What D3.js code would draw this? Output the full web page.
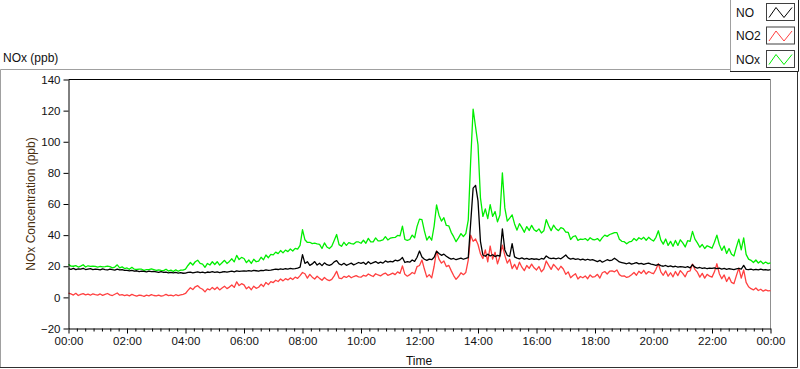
<!DOCTYPE html>
<html>
<head>
<meta charset="utf-8">
<script src="https://cdn.jsdelivr.net/npm/d3@7"></script>
<style>
body { margin: 0; background: #fff; }
svg { display: block; font-family: "Liberation Sans", Arial, sans-serif; }
</style>
</head>
<body>
<svg width="800" height="369"></svg>
<script>
// samples every 5 minutes, 00:00 .. 24:00
const STEP_MIN = 5;
const xTickLabels = ['00:00','02:00','04:00','06:00','08:00','10:00','12:00','14:00','16:00','18:00','20:00','22:00','00:00'];
const yTicks = [-20, 0, 20, 40, 60, 80, 100, 120, 140];
const seriesNames = ['NO', 'NO2', 'NOx'];
const seriesColors = ['#000000', '#ff4040', '#00ee00'];

const no = [
  18.4,18.0,18.6,17.8,18.3,18.1,18.7,17.9,18.2,18.5,17.8,18.1,
  18.0,17.7,18.3,17.9,17.6,18.2,17.8,17.5,18.1,17.6,17.9,17.4,
  17.3,17.0,17.4,16.8,17.1,16.6,16.9,16.7,16.4,16.8,16.5,16.7,
  16.4,16.1,16.5,16.0,16.2,15.8,16.1,15.7,16.0,15.6,15.9,15.5,
  15.6,16.0,16.2,15.8,16.1,16.4,15.9,16.2,15.8,16.3,16.0,16.5,
  16.1,16.4,15.9,16.3,16.6,16.2,16.5,16.8,16.4,17.0,16.7,16.9,
  17.0,16.8,17.2,16.9,17.3,17.1,16.8,17.4,17.2,17.6,17.3,17.5,
  17.8,18.1,17.9,18.3,18.0,18.4,18.2,18.6,18.3,18.5,18.8,19.4,
  27.5,21.8,22.9,20.6,21.5,23.0,20.8,21.9,20.4,22.2,21.0,20.6,
  21.2,22.8,23.6,21.5,20.8,21.9,20.6,21.3,22.0,20.9,21.6,22.4,
  21.8,22.5,21.2,22.9,21.6,22.3,23.0,21.9,22.6,22.0,23.4,22.7,
  23.2,22.8,23.9,23.4,24.1,25.6,22.4,23.0,22.6,24.0,23.1,25.8,
  29.8,26.0,24.5,23.8,24.6,24.2,25.8,29.6,28.2,27.0,27.8,26.4,
  25.4,24.6,25.0,24.2,24.8,25.2,24.5,25.0,25.6,48.0,70.2,72.0,
  62.0,36.0,27.2,26.4,27.8,26.6,27.4,26.2,27.0,26.5,44.0,30.5,
  27.0,26.4,34.5,26.0,25.2,24.8,25.4,24.6,25.0,24.4,24.9,24.5,
  24.8,24.2,25.0,24.6,26.6,25.4,24.9,25.2,24.7,25.3,24.8,26.0,
  27.2,25.4,24.6,25.0,24.4,24.8,24.1,24.6,24.0,24.5,23.9,24.2,
  23.6,23.0,23.8,22.6,23.4,24.2,23.6,24.0,25.2,24.0,22.8,22.4,
  22.0,21.6,22.2,21.4,21.8,22.3,21.5,21.9,21.2,21.7,22.0,21.4,
  21.0,20.6,21.2,20.4,20.0,20.5,19.8,20.2,19.6,20.0,19.4,19.8,
  19.6,19.2,19.8,19.0,21.0,19.4,18.8,19.2,18.6,19.0,18.4,18.8,
  18.6,19.0,18.4,18.8,18.2,18.6,18.0,18.4,18.1,17.8,18.3,18.6,
  18.2,20.6,18.0,17.8,18.2,17.6,18.0,17.7,18.1,17.6,17.9,17.5,
  17.8
];

const no2 = [
  2.8,2.2,1.5,2.6,1.2,1.9,2.4,1.6,2.1,1.4,2.3,1.8,
  1.5,2.2,1.3,1.9,2.5,1.6,1.2,2.0,2.8,1.4,1.7,1.1,
  1.6,1.0,1.9,1.3,0.8,1.5,1.2,0.6,1.4,1.0,1.8,1.2,
  1.0,1.5,0.8,1.2,1.9,1.1,1.4,0.9,1.7,1.2,1.6,2.0,
  2.5,4.5,6.2,5.0,6.8,7.5,6.0,5.2,3.5,5.5,4.8,6.4,
  5.0,6.5,4.8,6.0,7.2,5.6,6.6,8.0,6.4,10.0,7.6,8.8,
  8.0,5.5,6.8,4.9,7.2,5.8,6.5,8.4,7.0,9.6,8.2,10.1,
  9.5,11.0,10.2,11.8,10.6,12.0,11.2,12.5,11.5,13.0,12.2,14.0,
  16.0,15.2,12.4,14.8,13.0,11.8,13.6,12.2,11.0,12.8,11.4,10.8,
  11.6,13.8,16.8,12.4,12.0,13.5,12.8,13.9,12.6,13.4,14.0,13.2,
  13.0,14.2,13.6,15.0,14.1,13.4,15.2,14.4,13.8,14.9,15.6,14.2,
  14.8,15.6,14.6,16.4,15.4,20.2,14.8,13.6,14.6,16.0,15.2,19.8,
  20.5,24.0,18.2,13.0,14.6,12.5,20.0,29.8,24.6,22.0,23.4,19.8,
  20.6,17.2,14.0,11.6,13.4,15.8,14.6,16.0,24.0,40.0,36.0,37.5,
  34.0,28.0,25.0,30.5,22.8,33.0,24.6,29.0,21.5,26.4,33.5,27.0,
  22.0,24.5,18.5,21.2,18.0,22.6,19.4,17.2,20.5,18.6,21.4,19.0,
  17.6,19.8,16.4,18.2,23.4,20.6,18.0,21.2,19.4,17.6,20.0,18.2,
  14.8,16.4,12.6,14.0,15.2,11.8,13.4,12.6,13.8,12.0,14.4,13.0,
  13.4,14.8,12.4,15.8,16.6,15.0,16.8,17.0,16.4,17.6,14.6,13.6,
  13.8,12.8,13.4,14.6,16.0,14.2,16.8,15.4,17.4,15.0,16.6,15.8,
  15.2,18.0,21.6,16.4,14.2,17.0,13.6,15.8,13.2,16.6,14.0,17.2,
  15.4,13.2,16.6,17.0,21.4,18.0,16.2,13.0,15.4,12.4,14.8,13.6,
  13.0,16.4,21.6,15.2,12.0,14.4,10.2,13.0,9.6,8.8,14.0,18.8,
  12.4,17.6,9.6,6.8,5.6,4.8,6.0,4.4,5.2,4.0,4.8,4.2,
  4.4
];

const nox = [
  21.2,20.1,20.0,20.4,19.5,20.1,21.0,19.5,20.3,19.9,20.1,19.9,
  19.5,19.9,19.6,19.8,20.1,19.8,19.0,19.5,20.9,19.0,19.6,18.5,
  18.9,18.0,19.3,18.1,17.9,18.1,18.1,17.3,17.8,17.8,18.3,17.9,
  17.4,17.6,17.3,17.2,18.1,16.9,17.5,16.6,17.7,16.8,17.5,17.5,
  18.1,20.5,22.4,20.8,22.9,23.9,21.9,21.4,19.3,21.8,20.8,22.9,
  21.1,22.9,20.7,22.3,23.8,21.8,23.1,24.8,22.8,27.0,24.3,25.7,
  25.0,22.3,24.0,21.8,24.5,22.9,23.3,25.8,24.2,27.2,25.5,27.6,
  27.3,29.1,28.1,30.1,28.6,30.4,29.4,31.1,29.8,31.5,31.0,33.4,
  43.5,37.0,35.3,35.4,34.5,34.8,34.4,34.1,31.4,35.0,32.4,31.4,
  32.8,36.6,40.4,33.9,32.8,35.4,33.4,35.2,34.6,34.3,35.6,35.6,
  34.8,36.7,34.8,37.9,35.7,35.7,38.2,36.3,36.4,36.9,39.0,36.9,
  38.0,38.4,38.5,39.8,39.5,45.8,37.2,36.6,37.2,40.0,38.3,45.6,
  50.3,50.0,42.7,36.8,39.2,36.7,45.8,59.4,52.8,49.0,51.2,46.2,
  46.0,41.8,39.0,35.8,38.2,41.0,39.1,41.0,49.6,88.0,121.0,109.5,
  98.0,64.0,52.0,56.9,50.6,59.6,52.0,55.2,48.5,52.9,80.0,57.5,
  49.0,50.9,53.0,47.2,43.2,47.4,44.8,41.8,45.5,43.0,46.3,43.5,
  42.4,44.0,41.4,42.8,50.0,46.0,42.9,46.4,44.1,42.9,44.8,44.2,
  42.0,41.8,37.2,39.0,39.6,36.6,37.5,37.2,37.8,36.5,38.3,37.2,
  37.0,37.8,36.2,38.4,40.0,39.2,40.4,41.0,41.6,41.6,37.4,36.0,
  35.8,34.4,35.6,36.0,37.8,36.5,38.3,37.3,38.6,36.7,38.6,37.2,
  36.2,38.6,42.8,36.8,34.2,37.5,33.4,36.0,32.8,36.6,33.4,37.0,
  35.0,32.4,36.4,36.0,42.4,37.4,35.0,32.2,34.0,31.4,33.2,32.4,
  31.6,35.4,40.0,34.0,30.2,33.0,28.2,31.4,27.7,26.6,32.3,37.4,
  30.6,38.2,27.6,24.6,23.8,22.4,24.0,22.1,23.3,21.6,22.7,21.7,
  22.2
];

const plot = { left: 68.5, right: 770.5, top: 79.5, bottom: 328.5 };

var svg = d3.select('svg');

/* outer panel */
svg.append('path')
    .attr('d', 'M0.5,368 L0.5,69.5 L731,69.5')
    .attr('fill', 'none').attr('stroke', '#a0a0a0');
svg.append('path')
    .attr('d', 'M0,367.5 L797.5,367.5 L797.5,70')
    .attr('fill', 'none').attr('stroke', '#303030');

svg.append('text')
    .attr('x', 3).attr('y', 62)
    .attr('font-size', 12).attr('fill', '#111')
    .text('NOx (ppb)');

/* scales */
var x = d3.scaleLinear().domain([0, 1440]).range([plot.left, plot.right]);
var y = d3.scaleLinear().domain([-20, 140]).range([plot.bottom, plot.top]);

/* plot box */
svg.append('line')
    .attr('x1', plot.left).attr('x2', plot.right)
    .attr('y1', plot.top).attr('y2', plot.top)
    .attr('stroke', '#000');
svg.append('line')
    .attr('x1', plot.right).attr('x2', plot.right)
    .attr('y1', plot.top).attr('y2', plot.bottom)
    .attr('stroke', '#909090');

/* series */
var data = [nox, no2, no];
var colors = [seriesColors[2], seriesColors[1], seriesColors[0]];
var line = d3.line()
    .x((d, i) => x(i * STEP_MIN))
    .y((d) => y(d));

data.forEach((arr, k) => {
    svg.append('path')
        .datum(arr)
        .attr('fill', 'none')
        .attr('stroke', colors[k])
        .attr('stroke-width', 1.3)
        .attr('stroke-linejoin', 'round')
        .attr('d', line);
});

/* Y axis */
var yAxis = svg.append('g')
    .attr('transform', 'translate(' + plot.left + ',0)')
    .call(d3.axisLeft(y).tickValues(yTicks).tickSize(5).tickSizeOuter(0).tickPadding(3));
yAxis.selectAll('text').attr('font-size', 11.5).attr('fill', '#111').attr('font-family', '"Liberation Sans", Arial, sans-serif');
yAxis.selectAll('line, path').attr('stroke', '#000');

/* X axis, major + minor ticks */
var majors = d3.range(0, 1441, 120);
var minors = d3.range(0, 1441, 120 / 7).filter(v => Math.abs(v / 120 - Math.round(v / 120)) > 1e-6);

var xMinor = svg.append('g')
    .attr('transform', 'translate(0,' + plot.bottom + ')')
    .call(d3.axisBottom(x).tickValues(minors).tickSize(3).tickSizeOuter(0).tickFormat(''));
xMinor.select('.domain').remove();
xMinor.selectAll('line').attr('stroke', '#000');

var xAxis = svg.append('g')
    .attr('transform', 'translate(0,' + plot.bottom + ')')
    .call(d3.axisBottom(x).tickValues(majors).tickSize(5).tickSizeOuter(0).tickPadding(3)
        .tickFormat((d, i) => xTickLabels[i]));
xAxis.selectAll('text').attr('font-size', 11.5).attr('fill', '#111').attr('font-family', '"Liberation Sans", Arial, sans-serif');
xAxis.selectAll('line, path').attr('stroke', '#000');

/* axis titles */
svg.append('text')
    .attr('x', 419).attr('y', 365)
    .attr('text-anchor', 'middle')
    .attr('font-size', 12).attr('fill', '#111')
    .text('Time');

svg.append('text')
    .attr('transform', 'translate(35,204) rotate(-90)')
    .attr('text-anchor', 'middle')
    .attr('font-size', 12).attr('fill', '#4a3010')
    .text('NOx Concentration (ppb)');

/* legend */
var legend = svg.append('g');
legend.append('rect')
    .attr('x', 730.5).attr('y', -1)
    .attr('width', 70).attr('height', 72.5)
    .attr('fill', '#fff');
legend.append('path')
    .attr('d', 'M730.5,0 L730.5,71.5')
    .attr('fill', 'none').attr('stroke', '#a0a0a0');
legend.append('path')
    .attr('d', 'M730,71.5 L798.5,71.5 L798.5,0')
    .attr('fill', 'none').attr('stroke', '#202020');

seriesNames.forEach((name, i) => {
    var top = 3.5 + i * 23.5;
    legend.append('text')
        .attr('x', 736).attr('y', top + 13)
        .attr('font-size', 12).attr('fill', '#111')
        .text(name);
    legend.append('rect')
        .attr('x', 766.5).attr('y', top)
        .attr('width', 28).attr('height', 17)
        .attr('fill', '#fff')
        .attr('stroke', '#404040');
    legend.append('polyline')
        .attr('points', [[769, top + 14], [776, top + 4], [784, top + 14], [792, top + 4]].join(' '))
        .attr('fill', 'none')
        .attr('stroke', seriesColors[i])
        .attr('stroke-width', 1);
});
</script>
</body>
</html>
